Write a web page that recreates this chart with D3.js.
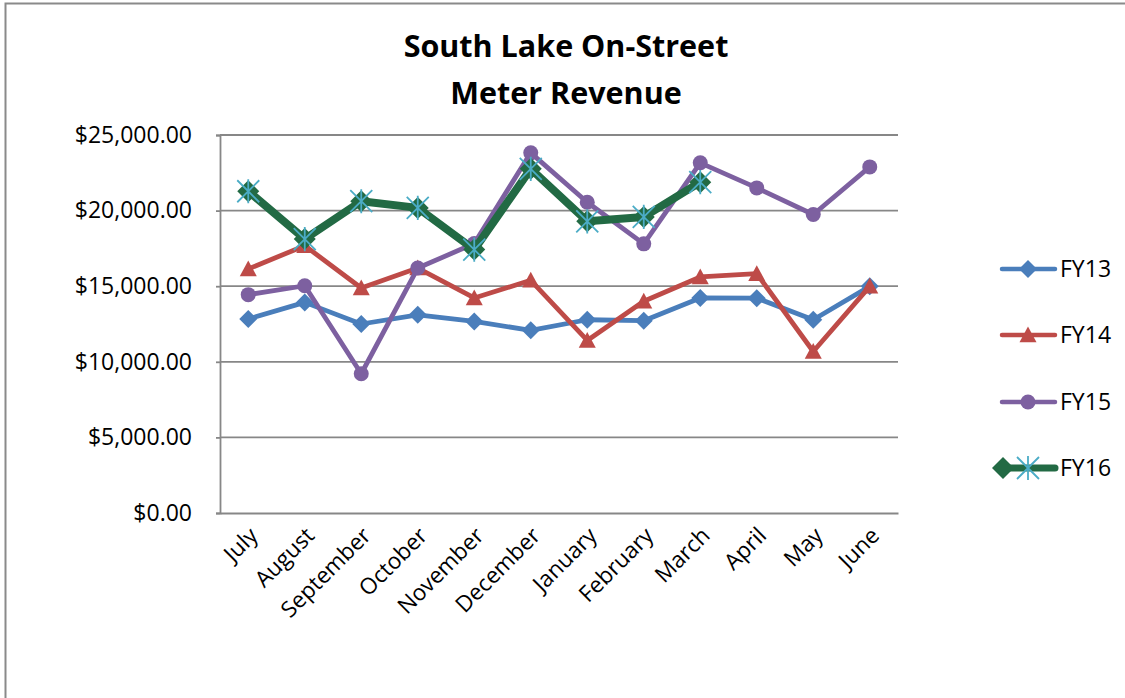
<!DOCTYPE html>
<html>
<head>
<meta charset="utf-8">
<script src="https://cdn.jsdelivr.net/npm/d3@7"></script>
<style>
  html, body { margin: 0; padding: 0; background: #fff; }
  svg { display: block; }
  text { font-family: "Open Sans", "Liberation Sans", sans-serif; fill: #000; }
</style>
</head>
<body>
<svg id="chart" width="1125" height="698"></svg>
<script>
const categories = ["July","August","September","October","November","December","January","February","March","April","May","June"];
const seriesNames = ["FY13","FY14","FY15","FY16"];
const fy13 = [12830, 13930, 12500, 13110, 12670, 12080, 12780, 12720, 14220, 14210, 12780, 14990];
const fy14 = [16140, 17680, 14880, 16200, 14220, 15390, 11410, 14000, 15610, 15830, 10680, 14990];
const fy15 = [14440, 15030, 9210, 16200, 17820, 23820, 20550, 17800, 23160, 21500, 19740, 22890];
const fy16 = [21280, 18120, 20620, 20180, 17420, 22760, 19290, 19580, 21880];
const yTicks = [0, 5000, 10000, 15000, 20000, 25000];
const titleLines = ["South Lake On-Street", "Meter Revenue"];

const svg = d3.select("#chart");
const margin = {left: 220, right: 898, top: 135, bottom: 513};

// chart frame
svg.append("rect").attr("x", 5.5).attr("y", 3.5).attr("width", 1300).attr("height", 900)
  .attr("fill", "#fff").attr("stroke", "#8a8a8a").attr("stroke-width", 2);

const x = d3.scaleBand().domain(categories).range([margin.left, margin.right]).padding(0);
const y = d3.scaleLinear().domain([0, 25000]).range([margin.bottom, margin.top]);
const cx = d => x(d) + x.bandwidth() / 2;

// gridlines
svg.append("g").selectAll("line").data(yTicks.filter(t => t > 0)).join("line")
  .attr("x1", margin.left).attr("x2", margin.right)
  .attr("y1", d => y(d)).attr("y2", d => y(d))
  .attr("stroke", "#878787").attr("stroke-width", 1.8);

// y axis
const yAxis = d3.axisLeft(y).tickValues(yTicks).tickFormat(d3.format("$,.2f")).tickSize(4).tickPadding(24);
const yg = svg.append("g").attr("transform", `translate(${margin.left},0)`).call(yAxis);
yg.select(".domain").attr("stroke", "#878787").attr("stroke-width", 1.8);
yg.selectAll(".tick line").attr("stroke", "#878787").attr("stroke-width", 1.8);
yg.selectAll(".tick text").style("font-size", "23px").style("font-family", "'Open Sans', sans-serif").attr("fill", "#000");

// x axis
const xAxis = d3.axisBottom(x).tickSize(0).tickFormat(d => d);
const xg = svg.append("g").attr("transform", `translate(0,${margin.bottom})`).call(xAxis);
xg.select(".domain").attr("stroke", "#878787").attr("stroke-width", 1.8);
xg.selectAll(".tick text")
  .style("font-size", "22.5px").style("font-family", "'Open Sans', sans-serif").attr("fill", "#000")
  .attr("text-anchor", "end")
  .attr("x", 0).attr("y", 0).attr("dy", 0)
  .attr("transform", "translate(11,24) rotate(-45)");

// title
svg.append("g").selectAll("text").data(titleLines).join("text")
  .attr("x", 566).attr("y", (d, i) => 57 + i * 47)
  .attr("text-anchor", "middle").style("font-size", "30.5px").style("font-weight", "bold")
  .text(d => d);

const colors = {FY13: "#4a7ebb", FY14: "#be4b48", FY15: "#7d60a0", FY16: "#226a44"};
const starColor = "#4bacc6";
const widths = {FY13: 4.8, FY14: 4.8, FY15: 4.8, FY16: 8};
const dataMap = {FY13: fy13, FY14: fy14, FY15: fy15, FY16: fy16};

const line = d3.line().x(d => cx(d.c)).y(d => y(d.v));

function diamond(g, px, py, r, col) {
  g.append("path").attr("d", `M${px},${py - r}L${px + r},${py}L${px},${py + r}L${px - r},${py}Z`).attr("fill", col);
}
function triangle(g, px, py, r, col) {
  g.append("path").attr("d", `M${px},${py - r}L${px + r},${py + r * 0.85}L${px - r},${py + r * 0.85}Z`).attr("fill", col);
}
function drawMarker(g, name, px, py) {
  const col = colors[name];
  if (name === "FY13") {
    diamond(g, px, py, 9, col);
  } else if (name === "FY14") {
    triangle(g, px, py, 8.5, col);
  } else if (name === "FY15") {
    g.append("circle").attr("cx", px).attr("cy", py).attr("r", 7.5).attr("fill", col);
  } else {
    diamond(g, px, py, 11, col);
    drawStar(g, px, py);
  }
}
function drawStar(g, px, py) {
  const s = 11;
  const p = `M${px - s},${py - s}L${px + s},${py + s}M${px - s},${py + s}L${px + s},${py - s}M${px},${py - s * 1.1}L${px},${py + s * 1.1}`;
  g.append("path").attr("d", p).attr("stroke", starColor).attr("stroke-width", 1.8).attr("fill", "none");
}

seriesNames.forEach(name => {
  const vals = dataMap[name];
  const pts = vals.map((v, i) => ({c: categories[i], v}));
  const g = svg.append("g");
  g.append("path").datum(pts).attr("d", line).attr("fill", "none")
    .attr("stroke", colors[name]).attr("stroke-width", widths[name])
    .attr("stroke-linejoin", "round").attr("stroke-linecap", "round");
  pts.forEach(p => drawMarker(g, name, cx(p.c), y(p.v)));
});

// legend
const legendY = {FY13: 269, FY14: 335, FY15: 402, FY16: 468};
seriesNames.forEach(name => {
  const g = svg.append("g");
  const ly = legendY[name];
  g.append("line").attr("x1", 1002).attr("x2", 1055).attr("y1", ly).attr("y2", ly)
    .attr("stroke", colors[name]).attr("stroke-width", name === "FY16" ? 7 : 4.5).attr("stroke-linecap", "round");
  if (name === "FY16") {
    diamond(g, 1003, ly, 11, colors[name]);
    drawStar(g, 1028, ly);
  } else {
    drawMarker(g, name, 1028, ly);
  }
  g.append("text").attr("x", 1060).attr("y", ly).attr("dy", "0.36em")
    .style("font-size", "23px").text(name);
});
</script>
</body>
</html>
